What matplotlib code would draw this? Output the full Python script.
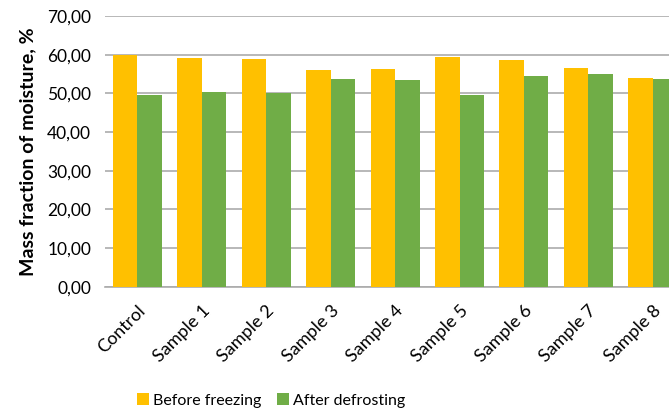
import numpy as np
import matplotlib.pyplot as plt
from matplotlib.ticker import FuncFormatter

# Moisture data
categories = ["Control", "Sample 1", "Sample 2", "Sample 3", "Sample 4",
              "Sample 5", "Sample 6", "Sample 7", "Sample 8"]
before_freezing = [59.9, 59.1, 58.8, 56.0, 56.2, 59.4, 58.6, 56.5, 53.9]
after_defrosting = [49.6, 50.3, 50.2, 53.8, 53.4, 49.6, 54.4, 55.1, 53.6]

plt.rcParams['font.family'] = ['Lato', 'DejaVu Sans']

fig = plt.figure(figsize=(6.69, 4.11), dpi=100)
ax = fig.add_axes([0.157, 0.302, 0.843, 0.659])

x = np.arange(len(categories))
w = 0.38
ax.bar(x - w / 2, before_freezing, w, color="#FFC000", label="Before freezing", zorder=3)
ax.bar(x + w / 2, after_defrosting, w, color="#70AD47", label="After defrosting", zorder=3)

ax.set_xlim(-0.5, 8.25)
ax.set_ylim(0, 70)
ax.set_yticks(np.arange(0, 71, 10))
ax.yaxis.set_major_formatter(FuncFormatter(lambda v, p: f"{v:.2f}".replace(".", ",")))
ax.grid(axis="y", color="#ABABAB", linewidth=1.2, zorder=0)

for side in ["top", "right", "left"]:
    ax.spines[side].set_visible(False)
ax.spines["bottom"].set_color("#ABABAB")
ax.spines["bottom"].set_linewidth(1.2)
ax.tick_params(axis="both", length=0, colors="black")
ax.tick_params(axis="y", pad=10, labelsize=12.5)

ax.set_xticks(x)
ax.set_xticklabels(categories, rotation=45, ha="right", va="top", rotation_mode="anchor")
ax.tick_params(axis="x", pad=11, labelsize=13)

ax.set_ylabel("Mass fraction of moisture, %", fontsize=14, fontweight="bold", labelpad=8)

fig.legend(loc="center", bbox_to_anchor=(0.405, 0.026), ncol=2, frameon=False,
           fontsize=11.5, handlelength=0.75, handleheight=0.75, handletextpad=0.25,
           columnspacing=1.0)

fig.savefig("out.png", dpi=100)
